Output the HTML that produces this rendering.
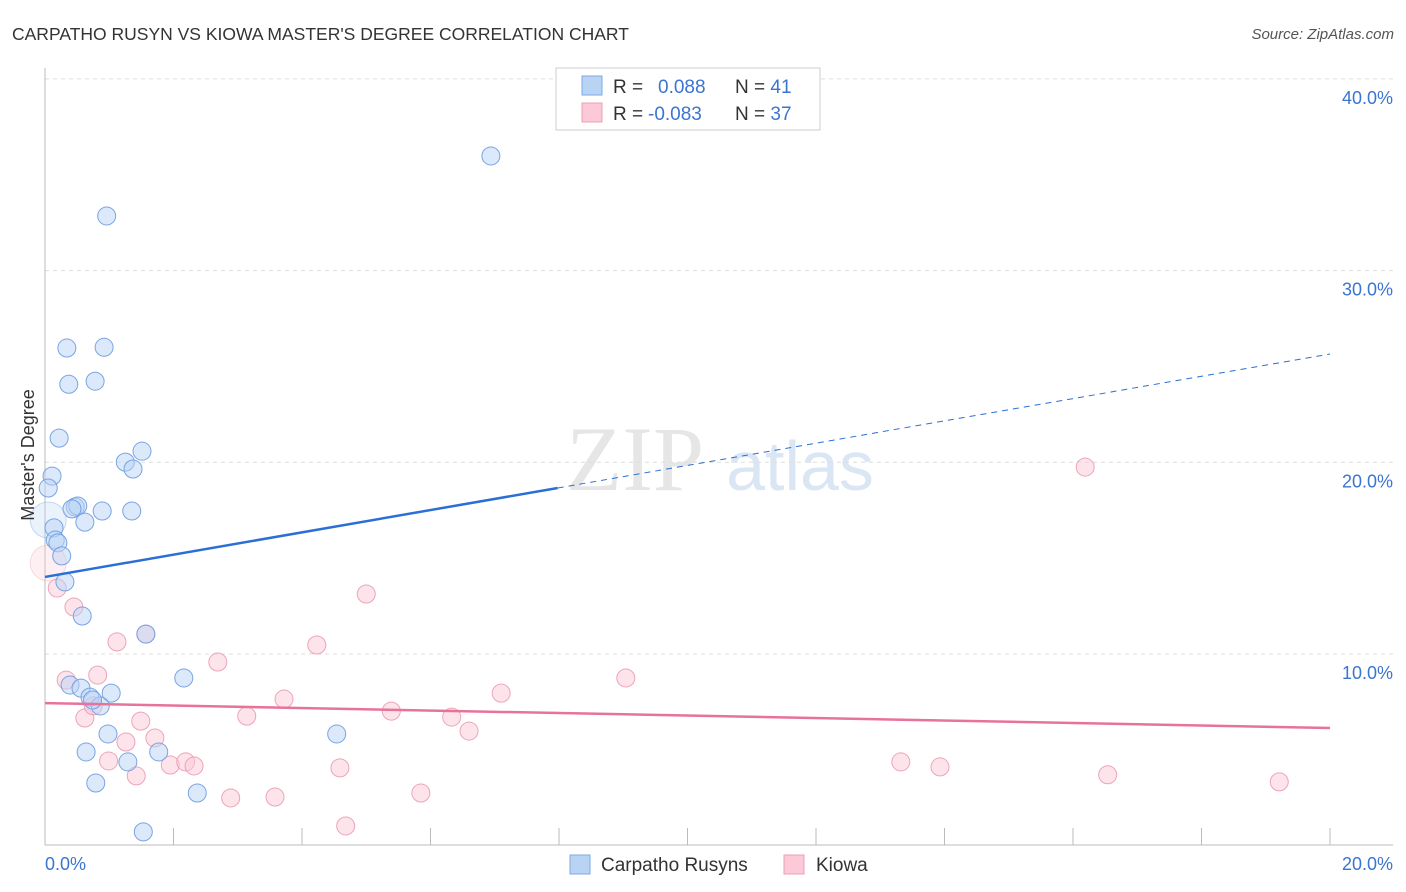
<!DOCTYPE html>
<html><head><meta charset="utf-8"><style>
body{margin:0;background:#fff;font-family:"Liberation Sans",sans-serif;}
#wrap{position:relative;width:1406px;height:892px;overflow:hidden;}
</style></head><body>
<div id="wrap">
<svg id="svg" width="1406" height="892" xmlns="http://www.w3.org/2000/svg">
<text x="12" y="40" font-size="17.5" fill="#333">CARPATHO RUSYN VS KIOWA MASTER'S DEGREE CORRELATION CHART</text>
<text x="1394" y="39" font-size="15" fill="#555" font-style="italic" text-anchor="end">Source: ZipAtlas.com</text>
<text x="635" y="490" font-size="92" fill="#e6e6e6" font-family="Liberation Serif,serif" text-anchor="middle">ZIP</text>
<text x="800" y="490" font-size="70" fill="#dbe6f5" text-anchor="middle">atlas</text>
<g id="grid"></g>
<g id="axes"></g>
<g id="marks"></g>
<text transform="translate(34,455) rotate(-90)" font-size="18" fill="#333" text-anchor="middle">Master's Degree</text>
<g>
<rect x="556" y="68" width="264" height="62" fill="#fff" stroke="#ccc"/>
<rect x="582" y="76" width="20" height="19" fill="#b9d3f5" stroke="#7fa8e0"/>
<rect x="582" y="103" width="20" height="19" fill="#fbc9d7" stroke="#eba0b6"/>
<text x="613" y="93" font-size="19" fill="#333">R = <tspan fill="#3a75d0" x="658">0.088</tspan><tspan fill="#333" x="735">N = </tspan><tspan fill="#3a75d0">41</tspan></text>
<text x="613" y="120" font-size="19" fill="#333">R = <tspan fill="#3a75d0" x="648">-0.083</tspan><tspan fill="#333" x="735">N = </tspan><tspan fill="#3a75d0">37</tspan></text>
</g>
<g>
<rect x="570" y="855" width="20" height="19" fill="#b9d3f5" stroke="#7fa8e0"/>
<text x="601" y="871" font-size="19" fill="#333">Carpatho Rusyns</text>
<rect x="784" y="855" width="20" height="19" fill="#fbc9d7" stroke="#eba0b6"/>
<text x="816" y="871" font-size="19" fill="#333">Kiowa</text>
</g>
</svg>
</div>
<script>
const yTicks=[10,20,30,40];
const yTickLabels=["10.0%","20.0%","30.0%","40.0%"];
const xTickLabels=["0.0%","20.0%"];
const blueX=[6.94,0.96,0.34,0.92,0.37,0.78,0.22,1.51,1.25,1.37,0.11,0.05,0.47,0.51,0.42,0.89,1.35,0.62,0.05,0.14,0.16,0.20,0.26,0.31,0.58,1.57,2.16,0.39,0.56,0.70,1.03,0.86,0.98,4.54,0.64,1.29,1.77,0.79,2.37,1.53,0.74];
const blueY=[35.98,32.85,25.96,26.0,24.07,24.23,21.26,20.58,20.01,19.65,19.28,18.66,17.67,17.72,17.57,17.46,17.46,16.88,16.99,16.58,15.95,15.8,15.12,13.76,11.98,11.04,8.75,8.38,8.22,7.75,7.96,7.29,5.83,5.83,4.89,4.37,4.89,3.27,2.75,0.72,7.6];
const blueR=[9,9,9,9,9,9,9,9,9,9,9,9,9,9,9,9,9,9,18,9,9,9,9,9,9,9,9,9,9,9,9,9,9,9,9,9,9,9,9,9,9];
const pinkX=[16.19,5.0,4.23,1.57,1.12,0.45,0.19,0.05,2.69,9.04,0.33,0.82,7.1,3.72,5.39,3.14,6.33,0.62,1.49,6.6,1.26,1.71,0.99,1.95,2.19,2.32,4.59,1.42,13.32,13.93,16.54,19.21,2.89,3.58,5.85,4.68,0.75];
const pinkY=[19.75,13.13,10.47,11.04,10.63,12.45,13.44,14.75,9.58,8.75,8.64,8.9,7.96,7.65,7.02,6.76,6.71,6.66,6.5,5.98,5.41,5.62,4.42,4.21,4.37,4.16,4.06,3.64,4.37,4.11,3.70,3.33,2.49,2.54,2.75,1.03,7.3];
const pinkR=[9,9,9,9,9,9,9,18,9,9,9,9,9,9,9,9,9,9,9,9,9,9,9,9,9,9,9,9,9,9,9,9,9,9,9,9,9];
const blueTrend=[14.02,25.65], blueSolidEnd=7.98;
const pinkTrend=[7.44,6.14];
const NS="http://www.w3.org/2000/svg";
const xs=v=>45+v*64.25, ys=v=>845.7-v*19.17;
function mk(tag,attrs,parent){const e=document.createElementNS(NS,tag);for(const k in attrs)e.setAttribute(k,attrs[k]);document.getElementById(parent).appendChild(e);return e;}
yTicks.forEach((t,i)=>{
 const g=mk('line',{x1:45,x2:1393,y1:ys(t),y2:ys(t),stroke:'#ddd','stroke-dasharray':'4,4'},'grid');
 
 
 const l=mk('text',{x:1393,y:ys(t)+25,'font-size':18,fill:'#3a75d0','text-anchor':'end'},'axes');
 l.textContent=yTickLabels[i];
 
 
});
const ax=mk('line',{x1:45,x2:1393,y1:845,y2:845,stroke:'#bbb'},'axes');


const ay=mk('line',{x1:45,x2:45,y1:68,y2:845,stroke:'#bbb'},'axes');


for(let i=0;i<=10;i++){
 const t=mk('line',{x1:xs(i*2),x2:xs(i*2),y1:828,y2:845,stroke:'#bbb'},'axes');
 
 
}
[[0,'start',45],[20,'end',1393]].forEach((d,i)=>{
 const l=mk('text',{x:d[2],y:870,'font-size':18,fill:'#3a75d0','text-anchor':d[1]},'axes');
 l.textContent=xTickLabels[i];
 
 
});
function pts(X,Y,R,fill,stroke,name){X.forEach((x,i)=>{
 const big=R[i]>10;
 const c=mk('circle',{cx:xs(x),cy:ys(Y[i]),r:R[i],fill:fill,'fill-opacity':big?0.3:0.5,stroke:stroke,'stroke-opacity':big?0.35:0.9,'stroke-width':1},'marks');
 
 
});}
pts(pinkX,pinkY,pinkR,'#fbc9d7','#eb9bb3','kiowa-point');
pts(blueX,blueY,blueR,'#b9d3f5','#6d9be0','carpatho-point');
const yb=x=>blueTrend[0]+(blueTrend[1]-blueTrend[0])*x/20;
const b1=mk('line',{x1:xs(0),y1:ys(yb(0)),x2:xs(blueSolidEnd),y2:ys(yb(blueSolidEnd)),stroke:'#2a6fd6','stroke-width':2.5},'marks');


const b2=mk('line',{x1:xs(blueSolidEnd),y1:ys(yb(blueSolidEnd)),x2:xs(20),y2:ys(yb(20)),stroke:'#2a6fd6','stroke-width':1,'stroke-dasharray':'6,5'},'marks');


const p1=mk('line',{x1:xs(0),y1:ys(pinkTrend[0]),x2:xs(20),y2:ys(pinkTrend[1]),stroke:'#e8739a','stroke-width':2.5},'marks');


</script>
</body></html>
